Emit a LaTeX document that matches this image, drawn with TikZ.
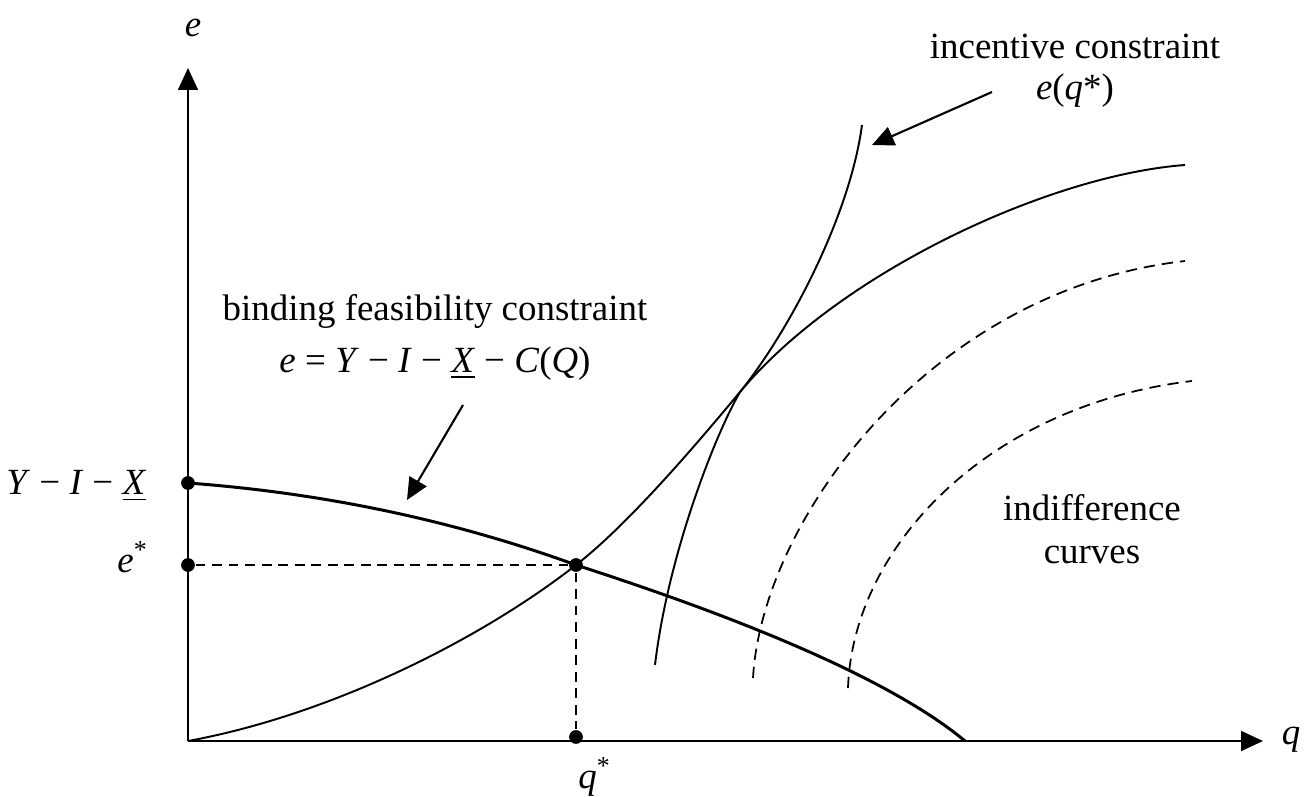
\documentclass[tikz,border=0pt]{standalone}
\usepackage{fontspec}
\setmainfont{Liberation Serif}
\usetikzlibrary{arrows.meta}

\begin{document}
\begin{tikzpicture}[x=0.01cm,y=-0.01cm,>={Triangle[length=6.2pt,width=5.6pt]},
  lbl/.style={inner sep=0pt,font=\fontsize{10.5}{12.5}\selectfont},
  dot/.style={circle,fill,inner sep=0pt,minimum size=3.9pt},
  guide/.style={dash pattern=on 2.8pt off 1.9pt,line width=0.5pt},
  indiff/.style={dash pattern=on 3.2pt off 2pt,line width=0.5pt}]
  \useasboundingbox (0,0) rectangle (1314,797);
  % axes
  \coordinate (o) at (188,741);
  \coordinate (etop) at (188,68);
  \coordinate (qend) at (1263,741);
  \draw[->,line width=0.6pt] (o) -- (etop);
  \draw[->,line width=0.6pt] (o) -- (qend);
  \node[lbl] (elab) at (193,28) {\textit{e}};
  \node[lbl] (qlab) at (1291,740) {\textit{q}};

  % points on the curves
  \coordinate (p) at (576,565);
  \coordinate (t) at (740,392);
  \coordinate (qz) at (965,741);

  % curves
  \draw[line width=0.85pt] (188,483) .. controls (350,495) and (480,530) .. (p)
    .. controls (700,605) and (880,670) .. (qz);
  \draw[line width=0.55pt] (o) .. controls (330,715) and (480,640) .. (p)
    .. controls (630,523) and (700,440) .. (t)
    .. controls (840,272) and (1050,175) .. (1185,165);
  \draw[line width=0.55pt] (655,665) .. controls (668,555) and (715,435) .. (t)
    .. controls (790,330) and (850,215) .. (862,125);
  \draw[indiff] (753,678) .. controls (762,520) and (930,290) .. (1185,261);
  \draw[indiff] (848,688) .. controls (853,545) and (990,405) .. (1192,381);

  % optimum
  \node[dot] (yx) at (188,483) {};
  \node[dot] (ed) at (188,565) {};
  \node[dot] (opt) at (p) {};
  \node[dot] (qd) at (576,737) {};
  \draw[guide] (ed) -- (opt) -- (qd);
  \node[lbl,anchor=east] (yxlab) at (147,486) {\textit{Y} − \textit{I} − \underline{\textit{X}}};
  \node[lbl] (elab2) at (133,557) {\textit{e}\textsuperscript{*}};
  \node[lbl] (qlab2) at (595,777) {\textit{q}\textsuperscript{*}};

  % labels
  \node[lbl,anchor=base] (bind) at (435,320) {binding feasibility constraint};
  \node[lbl,anchor=base] (bindeq) at (435,372) {\textit{e} = \textit{Y} − \textit{I} − \underline{\textit{X}} − \textit{C}(\textit{Q})};
  \coordinate (bfrom) at (463,405);
  \coordinate (bto) at (407,500);
  \draw[->,line width=0.6pt] (bfrom) -- (bto);
  \node[lbl,anchor=base] (inc) at (1075,58) {incentive constraint};
  \node[lbl,anchor=base] (inceq) at (1075,100) {\textit{e}(\textit{q}*)};
  \coordinate (ifrom) at (992,92);
  \coordinate (ito) at (872,145);
  \draw[->,line width=0.6pt] (ifrom) -- (ito);
  \node[lbl,anchor=base] (ind) at (1092,520) {indifference};
  \node[lbl,anchor=base] (crv) at (1092,563) {curves};
\end{tikzpicture}
\end{document}
